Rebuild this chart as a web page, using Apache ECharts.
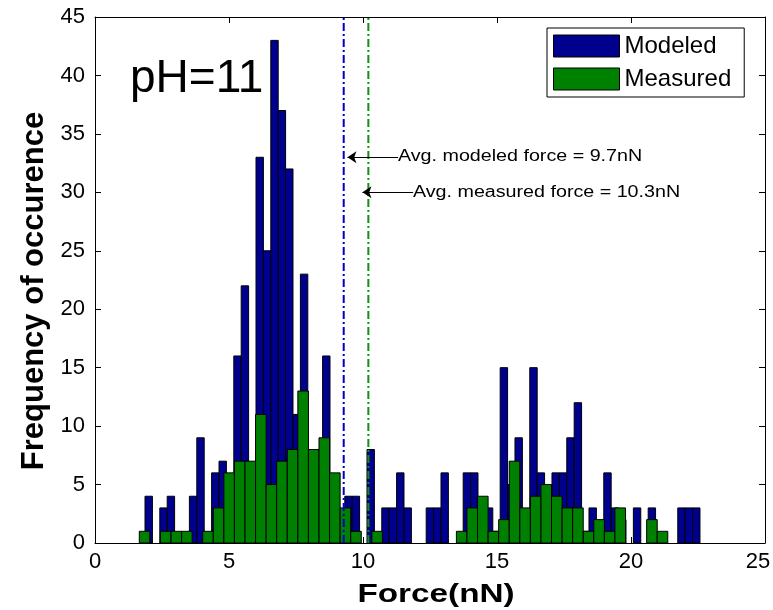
<!DOCTYPE html>
<html lang="en">
<head>
	<meta charset="UTF-8">
	<title>pH=11 force histogram</title>
	<script src="https://cdn.jsdelivr.net/npm/echarts@6/dist/echarts.min.js" type="text/javascript"></script>
	<style>
		html,body{margin:0;padding:0;background:#fff;overflow:hidden;}
		#chart{width:773px;height:610px;}
	</style>
</head>
<body>
<div id="chart"></div>
<script>
	// histogram bins (nN) - start of first bin and bin width
	var modeledStart = 1.866, modeledWidth = 0.2761;
	var measuredStart = 1.653, measuredWidth = 0.3944;
	// counts per bin
	var modeledCounts = [4,0,3,4,0,0,4,9,0,6,
		7,5,16,22,6,33,25,43,37,32,
		11,23,7,8,16,5,2,4,4,0,
		8,0,3,3,6,3,0,0,3,3,
		6,0,0,6,6,3,3,1,15,5,
		9,2,15,6,4,6,6,9,12,1,
		3,1,6,3,2,0,3,0,3,0,
		0,0,3,3,3];
	var measuredCounts = [1,0,1,1,1,0,1,3,6,7,
		7,11,5,7,8,13,8,9,6,3,
		1,0,1,0,0,0,0,0,0,0,
		1,3,4,1,2,7,3,4,5,4,
		3,3,1,2,1,3,0,0,2,1];
	var avgModeled = 9.28, avgMeasured = 10.2;
	var seriesNames = ['Modeled', 'Measured'];
	var xTicks = {min: 0, max: 25, step: 5};
	var yTicks = {min: 0, max: 45, step: 5};

	//把计数转换成 [左边, 右边, 高度]
	function toBins(start, width, counts){
		var out = [];
		for(var i=0;i<counts.length;i++){
			if(counts[i] > 0){
				out.push([start + i*width, start + (i+1)*width, counts[i]]);
			}
		}
		return out;
	}

	function renderBar(params, api){
		var p0 = api.coord([api.value(0), api.value(2)]);
		var p1 = api.coord([api.value(1), 0]);
		return {
			type: 'rect',
			shape: {x: p0[0], y: p0[1], width: p1[0]-p0[0], height: p1[1]-p0[1]},
			style: {fill: api.visual('color'), stroke: '#000', lineWidth: 1}
		};
	}

	var font = "'Liberation Sans', Arial, sans-serif";
	var myChart = echarts.init(document.getElementById('chart'));

	var axisCommon = {
		type: 'value',
		axisLine: {show: true, onZero: false, lineStyle: {color: '#000', width: 1}},
		axisTick: {show: true, inside: true, length: 6, lineStyle: {color: '#000'}},
		splitLine: {show: false}
	};

	var option = {
		animation: false,
		backgroundColor: '#fff',
		textStyle: {fontFamily: font},
		grid: {left: 95, right: 8, top: 17, bottom: 67, outerBoundsMode: 'none', containLabel: false},
		legend: {
			left: 547, top: 28,
			orient: 'vertical',
			icon: 'rect',
			itemWidth: 66, itemHeight: 22, itemGap: 9,
			padding: [6, 13, 6, 6],
			borderColor: '#000', borderWidth: 1,
			backgroundColor: '#fff',
			itemStyle: {borderColor: '#000', borderWidth: 1},
			textStyle: {fontSize: 24, color: '#000', fontFamily: font},
			data: seriesNames
		},
		xAxis: [
			echarts.util.merge({
				min: xTicks.min, max: xTicks.max, interval: xTicks.step,
				position: 'bottom',
				axisLabel: {
					fontSize: 22, color: '#000', margin: 8, fontFamily: font,
					// 最右边的标签往左挪一点, 不要被切掉
					formatter: function(v){ return v === xTicks.max ? '{last|' + v + '}' : '' + v; },
					rich: {last: {fontSize: 22, color: '#000', fontFamily: font, padding: [0, 14, 0, 0]}}
				}
			}, axisCommon, true),
			echarts.util.merge({
				min: xTicks.min, max: xTicks.max, interval: xTicks.step,
				position: 'top', axisLabel: {show: false}
			}, axisCommon, true)
		],
		yAxis: [
			echarts.util.merge({
				min: yTicks.min, max: yTicks.max, interval: yTicks.step,
				position: 'left',
				axisLabel: {fontSize: 22, color: '#000', margin: 10, fontFamily: font},
				name: 'Frequency of occurence', nameLocation: 'middle', nameGap: 45,
				nameTextStyle: {fontSize: 31, fontWeight: 'bold', color: '#000', fontFamily: font, padding: [0, 22, 0, 0]}
			}, axisCommon, true),
			echarts.util.merge({
				min: yTicks.min, max: yTicks.max, interval: yTicks.step,
				position: 'right', axisLabel: {show: false}
			}, axisCommon, true)
		],
		graphic: [
			{type: 'text', left: 130, top: 56, style: {text: 'pH=11', fontSize: 46, fill: '#000', fontFamily: font}},
			{type: 'text', x: 436, y: 595, scaleX: 1.28,
				style: {text: 'Force(nN)', fontSize: 26, fontWeight: 'bold', fill: '#000', fontFamily: font, textAlign: 'center', textVerticalAlign: 'middle'}},
			{type: 'text', x: 398, y: 157, scaleX: 1.23,
				style: {text: 'Avg. modeled force = 9.7nN', fontSize: 16, fill: '#000', fontFamily: font, textAlign: 'left', textVerticalAlign: 'middle'}},
			{type: 'text', x: 413, y: 193, scaleX: 1.23,
				style: {text: 'Avg. measured force = 10.3nN', fontSize: 16, fill: '#000', fontFamily: font, textAlign: 'left', textVerticalAlign: 'middle'}}
		],
		series: [
			{
				name: seriesNames[0], type: 'custom', renderItem: renderBar,
				itemStyle: {color: '#00008f'},
				encode: {x: [0, 1], y: 2},
				data: toBins(modeledStart, modeledWidth, modeledCounts)
			},
			{
				name: seriesNames[1], type: 'custom', renderItem: renderBar,
				itemStyle: {color: '#008000'},
				encode: {x: [0, 1], y: 2},
				data: toBins(measuredStart, measuredWidth, measuredCounts)
			},
			{
				type: 'line', symbol: 'none', silent: true,
				lineStyle: {color: '#0000cc', width: 2, type: [8, 3, 2, 3]},
				data: [[avgModeled, yTicks.min], [avgModeled, yTicks.max]],
				markLine: {
					silent: true, symbol: ['none', 'arrow'], symbolSize: 9,
					label: {show: false},
					lineStyle: {color: '#000', width: 1, type: 'solid'},
					data: [[{coord: [11.31, 33]}, {coord: [avgModeled + 0.14, 33]}]]
				}
			},
			{
				type: 'line', symbol: 'none', silent: true,
				lineStyle: {color: '#109010', width: 2, type: [8, 3, 2, 3]},
				data: [[avgMeasured, yTicks.min], [avgMeasured, yTicks.max]],
				markLine: {
					silent: true, symbol: ['none', 'arrow'], symbolSize: 9,
					label: {show: false},
					lineStyle: {color: '#000', width: 1, type: 'solid'},
					data: [[{coord: [11.87, 30]}, {coord: [avgMeasured - 0.22, 30]}]]
				}
			}
		]
	};

	myChart.setOption(option);
</script>
</body>
</html>
